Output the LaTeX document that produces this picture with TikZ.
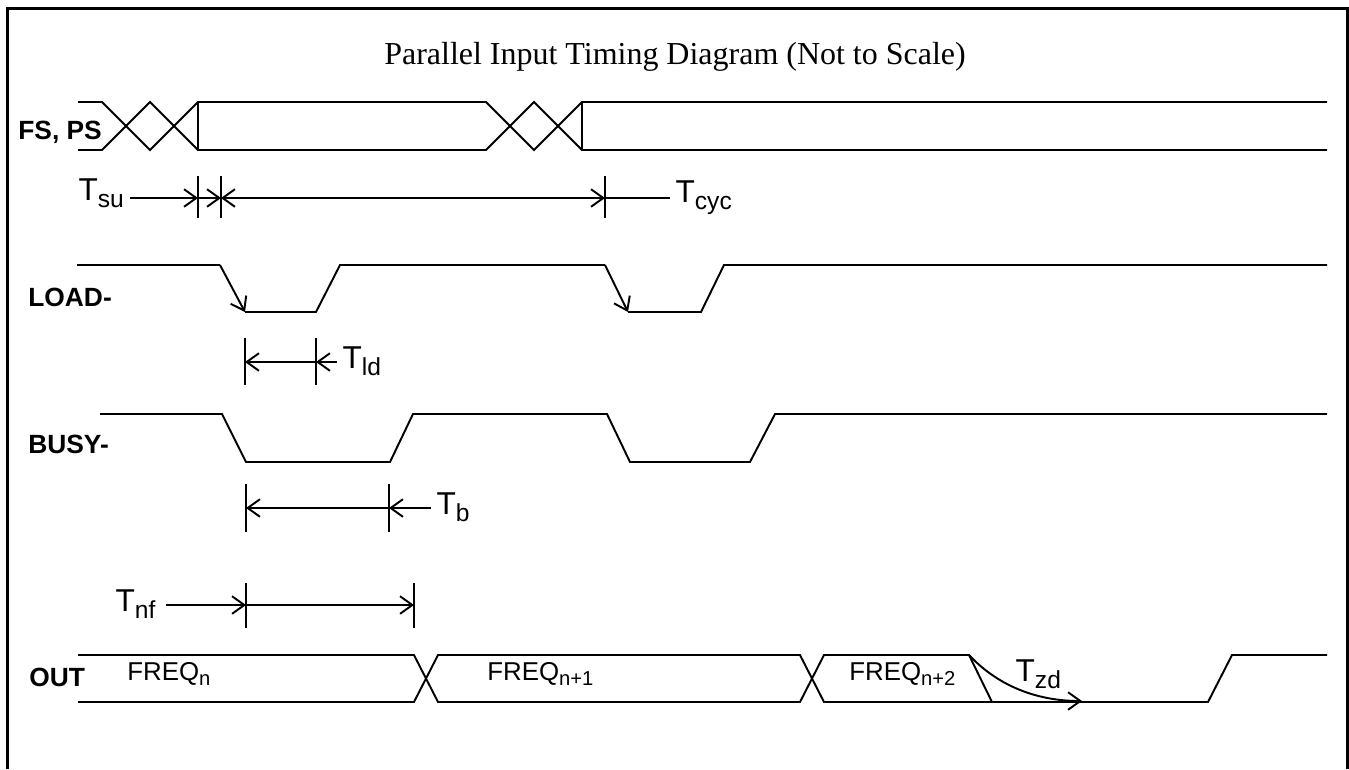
\documentclass[tikz,border=0pt]{standalone}
\usepackage{fontspec}
\setmainfont{Liberation Sans}
\newfontfamily\headfont{Liberation Serif}
\usetikzlibrary{arrows.meta}

% timing labels: T with a lowered subscript, data words with index
\newcommand\Tsub[1]{T\raisebox{-4pt}{\fontsize{14}{14}\selectfont #1}}
\newcommand\Fsub[1]{FREQ\raisebox{-3pt}{\fontsize{11.5}{11.5}\selectfont #1}}

\begin{document}
\begin{tikzpicture}[x=0.02cm,y=-0.02cm,
		>={Straight Barb[length=7pt,width=10pt]},
		wave/.style={line width=1.1pt},
		dim/.style={line width=1.1pt},
		signame/.style={font=\fontsize{15}{15}\selectfont\bfseries,anchor=base west,inner sep=0pt},
		tname/.style={font=\fontsize{18}{18}\selectfont,anchor=base west,inner xsep=3pt,inner ysep=0pt},
		fname/.style={font=\fontsize{14.7}{15}\selectfont,anchor=base west,inner sep=0pt}]
		\useasboundingbox (0,0) rectangle (1349,769);
		% frame, open at the bottom
		\draw [line width=1.7pt] (7.5,769) -- (7.5,8) -- (1347,8) -- (1347,769);
		\node [font=\headfont\fontsize{18.2}{18.2}\selectfont] (title) at (675,57) {Parallel Input Timing Diagram (Not to Scale)};
		% signal names
		\node [signame] (fsps) at (18,139) {FS, PS};
		\node [signame] (load) at (28,306) {LOAD-};
		\node [signame] (busy) at (28,453) {BUSY-};
		\node [signame] (out) at (29,686) {OUT};
		% FS, PS
		\draw [wave] (78,102) -- (102,102) -- (150,150) -- (198,102) -- (486,102) -- (534,150) -- (582,102) -- (1327,102);
		\draw [wave] (78,150) -- (102,150) -- (150,102) -- (198,150) -- (486,150) -- (534,102) -- (582,150) -- (1327,150);
		\draw [wave] (198,102) -- (198,150);
		\draw [wave] (582,102) -- (582,150);
		% setup and cycle time
		\coordinate (su0) at (198,198);
		\coordinate (su1) at (221,198);
		\coordinate (cyc) at (605,198);
		\draw [dim] (198,176) -- (198,218);
		\draw [dim] (221,176) -- (221,218);
		\draw [dim] (605,176) -- (605,218);
		\node [tname] (tsu) at (73,200) {\Tsub{su}};
		\draw [dim,->] (tsu.east |- su0) -- (su0);
		\draw [dim,->] (su0) -- (su1);
		\draw [dim,<->] (su1) -- (cyc);
		\node [tname] (tcyc) at (670,202) {\Tsub{cyc}};
		\draw [dim] (cyc) -- (tcyc.west |- cyc);
		% LOAD-
		\draw [wave] (77,265) -- (220,265);
		\draw [wave,->] (220,265) -- (245,312);
		\draw [wave] (245,312) -- (316,312) -- (340,265) -- (605,265);
		\draw [wave,->] (605,265) -- (628,312);
		\draw [wave] (628,312) -- (701,312) -- (724,265) -- (1327,265);
		% load time
		\coordinate (ld0) at (245,362);
		\coordinate (ld1) at (316,362);
		\draw [dim] (245,338) -- (245,385);
		\draw [dim] (316,338) -- (316,385);
		\draw [dim,->] (ld1) -- (ld0);
		\node [tname] (tld) at (337,368) {\Tsub{ld}};
		\draw [dim,->] (tld.west |- ld1) -- (ld1);
		% BUSY-
		\draw [wave] (100,414) -- (222,414) -- (246,462) -- (390,462) -- (413,414) -- (607,414) -- (630,462) -- (750,462) -- (775,414) -- (1327,414);
		% busy time
		\coordinate (b0) at (246,508);
		\coordinate (b1) at (389,508);
		\draw [dim] (246,484) -- (246,532);
		\draw [dim] (389,484) -- (389,532);
		\draw [dim,->] (b1) -- (b0);
		\node [tname] (tb) at (431,514) {\Tsub{b}};
		\draw [dim,->] (tb.west |- b1) -- (b1);
		% next frequency
		\coordinate (nf0) at (246,605);
		\coordinate (nf1) at (414,605);
		\draw [dim] (246,583) -- (246,628);
		\draw [dim] (414,583) -- (414,628);
		\node [tname] (tnf) at (110,611) {\Tsub{nf}};
		\draw [dim,->] ([xshift=3pt]tnf.east |- nf0) -- (nf0);
		\draw [dim,->] (nf0) -- (nf1);
		% OUT
		\draw [wave] (78,655) -- (414,655) -- (438,702) -- (800,702) -- (824,655) -- (969,655) -- (992,702);
		\draw [wave] (78,702) -- (414,702) -- (438,655) -- (800,655) -- (824,702) -- (1208,702) -- (1232,655) -- (1327,655);
		\node [fname] (fn0) at (127,680) {\Fsub{n}};
		\node [fname] (fn1) at (487,680) {\Fsub{n+1}};
		\node [fname] (fn2) at (849,680) {\Fsub{n+2}};
		% output disable
		\draw [wave,->] (969,655) .. controls (1000,688) and (1040,701) .. (1082,701);
		\node [tname] (tzd) at (1010,681) {\Tsub{zd}};
	\end{tikzpicture}
\end{document}
